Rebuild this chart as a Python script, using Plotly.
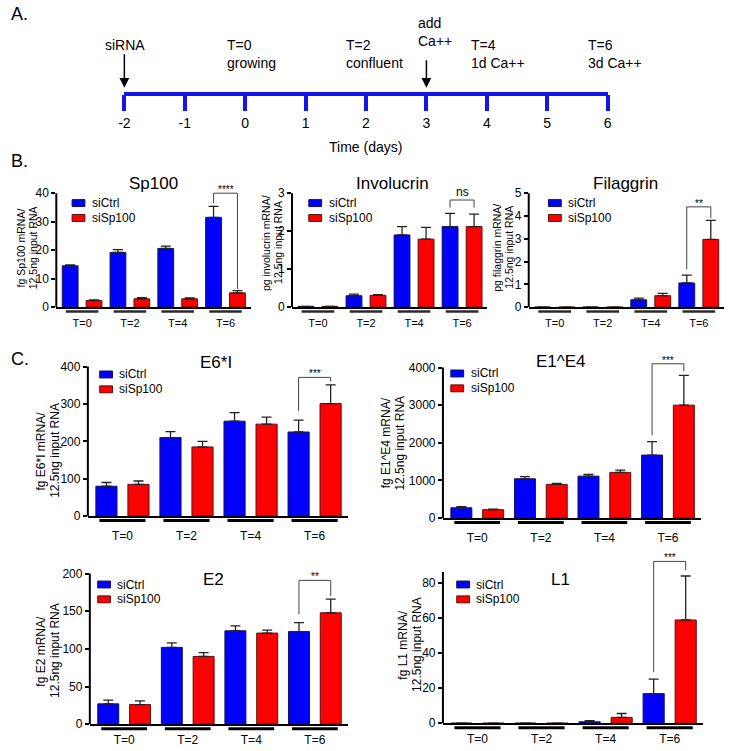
import plotly.graph_objects as go

W, H = 729, 751
FONT = "Arial, 'Liberation Sans', sans-serif"

# ---------------- data ----------------
groups = ["T=0", "T=2", "T=4", "T=6"]
series = ["siCtrl", "siSp100"]

sp100_ctrl = [14.5, 19.2, 20.6, 31.5]
sp100_ctrl_err = [0.3, 1.0, 0.8, 3.9]
sp100_kd = [2.3, 2.9, 2.9, 5.0]
sp100_kd_err = [0.2, 0.4, 0.3, 0.8]
sp100_sig = ["****", 40, 36.5, 6.3]

inv_ctrl = [0.02, 0.30, 1.90, 2.12]
inv_ctrl_err = [0.0, 0.04, 0.22, 0.35]
inv_kd = [0.02, 0.31, 1.79, 2.12]
inv_kd_err = [0.0, 0.02, 0.31, 0.33]
inv_sig = ["ns", 2.82, 2.62, 2.62]

fil_ctrl = [0, 0, 0.32, 1.06]
fil_ctrl_err = [0, 0, 0.07, 0.34]
fil_kd = [0, 0, 0.50, 2.97]
fil_kd_err = [0, 0, 0.10, 0.84]
fil_sig = ["**", 4.4, 1.65, 3.9]

e6_ctrl = [80, 210, 254, 225]
e6_ctrl_err = [10, 16, 23, 32]
e6_kd = [85, 185, 246, 301]
e6_kd_err = [9, 15, 19, 50]
e6_sig = ["***", 371, 281, 360]

e1e4_ctrl = [275, 1045, 1115, 1675]
e1e4_ctrl_err = [30, 60, 45, 355]
e1e4_kd = [225, 895, 1215, 3000]
e1e4_kd_err = [15, 25, 60, 790]
e1e4_sig = ["***", 4100, 2200, 3900]

e2_ctrl = [27, 102, 124, 123]
e2_ctrl_err = [5, 6, 6.5, 12]
e2_kd = [26, 90, 121, 148]
e2_kd_err = [5, 5, 4, 18]
e2_sig = ["**", 191, 146, 170]

l1_ctrl = [0, 0, 0.8, 16.8]
l1_ctrl_err = [0, 0, 0.6, 8.3]
l1_kd = [0, 0, 3.3, 58.7]
l1_kd_err = [0, 0, 2.2, 25]
l1_sig = ["***", 92, 29, 87]

days = [-2, -1, 0, 1, 2, 3, 4, 5, 6]
day_labels = [str(d) for d in days]

# ---------------- styling / layout specs ----------------
BLUE, RED = "#0000ff", "#ff0000"
BLUE_EDGE, RED_EDGE = "#141450", "#5a1010"
BW = 0.66
XR = [-0.58, 7.55]

panels = [
    dict(title="Sp100", c=sp100_ctrl, ce=sp100_ctrl_err, k=sp100_kd, ke=sp100_kd_err, sig=sp100_sig,
         ytitle=["fg Sp100 mRNA/", "12.5ng input RNA"], xpix=(51, 248), y0=310, yt=195, ytop=40, rtop=44,
         ticks=[0, 10, 20, 30, 40], tpos=(150, 185), ytpos=(21, 250), lpos=(67, 205), small=True, tl=5),
    dict(title="Involucrin", c=inv_ctrl, ce=inv_ctrl_err, k=inv_kd, ke=inv_kd_err, sig=inv_sig,
         ytitle=["pg involucrin mRNA/", "12.5ng input RNA"], xpix=(290, 488), y0=310, yt=195, ytop=3, rtop=3.3,
         ticks=[0, 1, 2, 3], tpos=(392, 185), ytpos=(269, 245), lpos=(307, 205), small=True, tl=5),
    dict(title="Filaggrin", c=fil_ctrl, ce=fil_ctrl_err, k=fil_kd, ke=fil_kd_err, sig=fil_sig,
         ytitle=["pg filaggrin mRNA/", "12.5ng input RNA"], xpix=(530, 728), y0=310, yt=195, ytop=5, rtop=5.5,
         ticks=[0, 1, 2, 3, 4, 5], tpos=(628, 185), ytpos=(504, 250), lpos=(550, 205), small=True, tl=5),
    dict(title="E6*I", c=e6_ctrl, ce=e6_ctrl_err, k=e6_kd, ke=e6_kd_err, sig=e6_sig,
         ytitle=["fg E6*I mRNA/", "12.5ng input RNA"], xpix=(83, 347), y0=521, yt=370, ytop=400, rtop=440,
         ticks=[0, 100, 200, 300, 400], tpos=(213, 366), ytpos=(42.5, 455), lpos=(95, 378), small=False, tl=7),
    dict(title="E1^E4", c=e1e4_ctrl, ce=e1e4_ctrl_err, k=e1e4_kd, ke=e1e4_kd_err, sig=e1e4_sig,
         ytitle=["fg E1^E4 mRNA/", "12.5ng input RNA"], xpix=(443, 705), y0=523, yt=371, ytop=4000, rtop=4500,
         ticks=[0, 1000, 2000, 3000, 4000], tpos=(563, 365), ytpos=(392, 447), lpos=(451, 377), small=False, tl=7),
    dict(title="E2", c=e2_ctrl, ce=e2_ctrl_err, k=e2_kd, ke=e2_kd_err, sig=e2_sig,
         ytitle=["fg E2 mRNA/", "12.5ng input RNA"], xpix=(85, 347), y0=731, yt=579, ytop=200, rtop=220,
         ticks=[0, 50, 100, 150, 200], tpos=(210, 585), ytpos=(42.5, 657), lpos=(93, 590), small=False, tl=3),
    dict(title="L1", c=l1_ctrl, ce=l1_ctrl_err, k=l1_kd, ke=l1_kd_err, sig=l1_sig,
         ytitle=["fg L1 mRNA/", "12.5ng input RNA"], xpix=(443, 707), y0=730, yt=588, ytop=80, rtop=100,
         axis_top=86, ticks=[0, 20, 40, 60, 80], tpos=(562, 585), ytpos=(409.5, 651), lpos=(457, 590),
         small=False, tl=3),
]

fig = go.Figure()
shapes, annotations, lay = [], [], {}


def px(x):
    return x / W


def py(y):
    return 1 - y / H


for i, p in enumerate(panels, start=1):
    sfx = "" if i == 1 else str(i)
    xa, ya = "x" + sfx, "y" + sfx
    blue_x = [2 * g for g in range(len(groups))]
    red_x = [2 * g + 1 for g in range(len(groups))]
    for xs, vals, errs, col, edge, nm in [(blue_x, p["c"], p["ce"], BLUE, BLUE_EDGE, series[0]),
                                          (red_x, p["k"], p["ke"], RED, RED_EDGE, series[1])]:
        fig.add_trace(go.Bar(
            x=xs, y=vals, width=BW, name=nm, showlegend=False,
            marker=dict(color=col, line=dict(color=edge, width=1)),
            error_y=dict(type="data", array=errs, arrayminus=[0] * len(errs), symmetric=False,
                         color="#222222", thickness=1.3, width=5),
            xaxis=xa, yaxis=ya, hoverinfo="skip"))
    # significance bracket
    lab, top, lb, rb = p["sig"]
    bx1, bx2 = blue_x[-1], red_x[-1]
    fig.add_trace(go.Scatter(x=[bx1, bx1, bx2, bx2], y=[lb, top, top, rb], mode="lines",
                             line=dict(color="#444444", width=1), xaxis=xa, yaxis=ya,
                             showlegend=False, hoverinfo="skip"))
    annotations.append(dict(x=(bx1 + bx2) / 2, y=top, xref=xa, yref=ya, text=lab, showarrow=False,
                            yanchor="bottom", yshift=(-1 if lab == "ns" else -4),
                            font=dict(size=(12 if lab == "ns" else 10), color="black", family=FONT)))
    # axes
    kpx = (p["y0"] - p["yt"]) / p["ytop"]
    toppix = p["y0"] - kpx * p["rtop"]
    tf = 11 if p["small"] else 12
    lay["xaxis" + sfx] = dict(domain=[px(p["xpix"][0]), px(p["xpix"][1])], range=XR, anchor=ya,
                              showline=True, linecolor="black", linewidth=2, showgrid=False, zeroline=False,
                              tickvals=[2 * g + 0.5 for g in range(len(groups))], ticktext=groups,
                              ticks="outside", ticklen=p["tl"], tickcolor="rgba(0,0,0,0)",
                              tickfont=dict(size=tf, color="black", family=FONT))
    lay["yaxis" + sfx] = dict(domain=[py(p["y0"]), py(toppix)], range=[0, p["rtop"]], anchor=xa,
                              showline=False, showgrid=False, zeroline=False, tickvals=p["ticks"],
                              ticks="outside", ticklen=4, tickwidth=1.5, tickcolor="black",
                              tickfont=dict(size=12, color="black", family=FONT))
    # y axis line
    shapes.append(dict(type="line", xref=xa + " domain", yref=ya, x0=0, x1=0, y0=0,
                       y1=p.get("axis_top", p["ytop"]), line=dict(color="black", width=2)))
    # group underlines
    hw = 0.68 if p["small"] else 0.72
    for g in range(len(groups)):
        c = 2 * g + 0.5
        shapes.append(dict(type="line", xref=xa, yref="paper", x0=c - hw, x1=c + hw,
                           y0=py(p["y0"] + 4.5), y1=py(p["y0"] + 4.5),
                           line=dict(color=("#2a2a2a" if p["small"] else "black"),
                                     width=(2.5 if p["small"] else 3))))
    # title
    annotations.append(dict(x=px(p["tpos"][0]), y=py(p["tpos"][1]), xref="paper", yref="paper",
                            text=p["title"], showarrow=False, xanchor="center", yanchor="middle",
                            font=dict(size=17, color="black", family=FONT)))
    # y title (two rotated lines)
    gap = 12 if p["small"] else 14.5
    for j, line in enumerate(p["ytitle"]):
        annotations.append(dict(x=px(p["ytpos"][0] + (j - 0.5) * gap), y=py(p["ytpos"][1]),
                                xref="paper", yref="paper", text=line, showarrow=False, textangle=-90,
                                xanchor="center", yanchor="middle",
                                font=dict(size=(10.5 if p["small"] else 12), color="black", family=FONT)))
    # legend
    lx, ly = p["lpos"]
    for j, (nm, col, edge) in enumerate([(series[0], BLUE, BLUE_EDGE), (series[1], RED, RED_EDGE)]):
        cy = ly + 15 * j
        shapes.append(dict(type="rect", xref="paper", yref="paper", x0=px(lx), x1=px(lx + 13),
                           y0=py(cy + 3.5), y1=py(cy - 3.5), fillcolor=col, line=dict(color=edge, width=1)))
        annotations.append(dict(x=px(lx + 18), y=py(cy), xref="paper", yref="paper", text=nm,
                                showarrow=False, xanchor="left", yanchor="middle",
                                font=dict(size=12, color="black", family=FONT)))

# ---------------- panel A: timeline ----------------
LINE_Y = 92.5
fig.add_trace(go.Scatter(x=days, y=[0] * len(days), mode="markers", marker=dict(opacity=0),
                         xaxis="x8", yaxis="y8", showlegend=False, hoverinfo="skip"))
lay["xaxis8"] = dict(domain=[px(120), px(610)], range=[days[0], days[-1]], anchor="y8",
                     showline=True, linecolor="#1414f0", linewidth=3.5, showgrid=False, zeroline=False,
                     tickvals=days, ticktext=day_labels, ticks="outside", ticklen=16, tickwidth=3.5,
                     tickcolor="#1414f0", tickfont=dict(size=14, color="black", family=FONT))
lay["yaxis8"] = dict(domain=[py(LINE_Y), py(65)], range=[0, 1], anchor="x8", visible=False)

annotations.append(dict(x=px(364), y=py(138), xref="paper", yref="paper", text="Time (days)",
                        showarrow=False, font=dict(size=14, color="black", family=FONT)))
timeline_notes = [("siRNA", 121, 45, "center"),
                  ("T=0<br>growing", 222, 54.5, "left"),
                  ("T=2<br>confluent", 343, 54.5, "left"),
                  ("add<br>Ca++", 416, 32, "left"),
                  ("T=4<br>1d Ca++", 469, 54.5, "left"),
                  ("T=6<br>3d Ca++", 588, 54.5, "left")]
for txt, x, y, anc in timeline_notes:
    annotations.append(dict(x=px(x), y=py(y), xref="paper", yref="paper", text=txt, showarrow=False,
                            xanchor=anc, yanchor="middle", align="left",
                            font=dict(size=14, color="black", family=FONT)))
for d, tail in [(-2, 35), (3, 29)]:
    annotations.append(dict(x=d, y=py(LINE_Y - 4), xref="x8", yref="paper", text="", showarrow=True,
                            ax=0, ay=-tail, arrowhead=2, arrowsize=1.3, arrowwidth=1.5,
                            arrowcolor="black", standoff=0))

for lab, y in [("A.", 14), ("B.", 163), ("C.", 362)]:
    annotations.append(dict(x=px(3), y=py(y), xref="paper", yref="paper", text=lab, showarrow=False,
                            xanchor="left", yanchor="middle", font=dict(size=18, color="black", family=FONT)))

fig.update_layout(width=W, height=H, margin=dict(l=0, r=0, t=0, b=0), barmode="overlay",
                  paper_bgcolor="white", plot_bgcolor="rgba(0,0,0,0)", showlegend=False,
                  shapes=shapes, annotations=annotations, font=dict(family=FONT, color="black"), **lay)
fig.write_html("out.html", config={"displayModeBar": False},
               post_script="document.body.style.margin='0px';")
